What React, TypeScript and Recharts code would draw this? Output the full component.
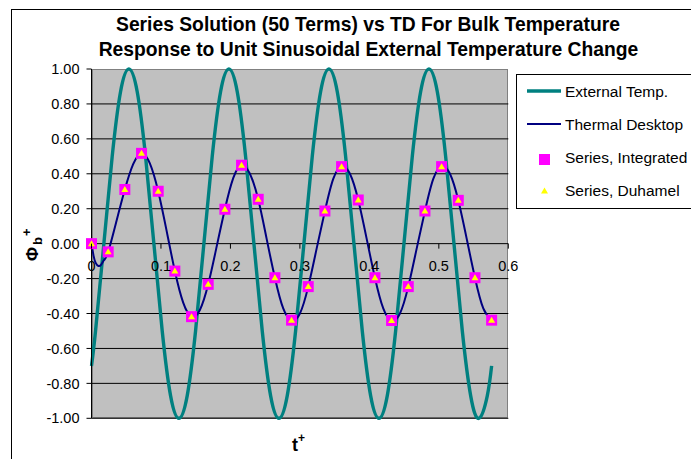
import { ComposedChart, Line, XAxis, YAxis, CartesianGrid } from "recharts";

// External temperature (unit sinusoid)
const extTime = [
  0, 0.0058, 0.0178, 0.0298, 0.0418, 0.0538, 0.0658, 0.0778, 0.0898, 0.1018, 0.1138, 0.1258,
  0.1378, 0.1498, 0.1618, 0.1738, 0.1858, 0.1978, 0.2098, 0.2218, 0.2338, 0.2458, 0.2578,
  0.2698, 0.2818, 0.2938, 0.3058, 0.3178, 0.3298, 0.3418, 0.3538, 0.3658, 0.3778, 0.3898,
  0.4018, 0.4138, 0.4258, 0.4378, 0.4498, 0.4618, 0.4738, 0.4858, 0.4978, 0.5098, 0.5218,
  0.5338, 0.5458, 0.5578, 0.5698, 0.576,
];
const extTemp = [
  -0.7, -0.5, 0, 0.5, 0.87, 1.0, 0.87, 0.5, 0, -0.5, -0.87, -1.0,
  -0.87, -0.5, 0, 0.5, 0.87, 1.0, 0.87, 0.5, 0, -0.5, -0.87,
  -1.0, -0.87, -0.5, 0, 0.5, 0.87, 1.0, 0.87, 0.5, 0, -0.5,
  -0.87, -1.0, -0.87, -0.5, 0, 0.5, 0.87, 1.0, 0.87, 0.5, 0,
  -0.5, -0.87, -1.0, -0.87, -0.7,
];

// Thermal Desktop bulk temperature
const tdTime = [
  0, 0.003, 0.006, 0.01, 0.014, 0.018, 0.024, 0.036, 0.048, 0.06, 0.072, 0.084, 0.096, 0.108,
  0.12, 0.132, 0.144, 0.156, 0.168, 0.18, 0.192, 0.204, 0.216, 0.228, 0.24, 0.252, 0.264,
  0.276, 0.288, 0.3, 0.312, 0.324, 0.336, 0.348, 0.36, 0.372, 0.384, 0.396, 0.408, 0.42,
  0.432, 0.444, 0.456, 0.468, 0.48, 0.492, 0.504, 0.516, 0.528, 0.54, 0.552, 0.564, 0.576,
];
const tdTemp = [
  0, -0.07, -0.11, -0.128, -0.12, -0.095, -0.047, 0.13, 0.31, 0.455, 0.515, 0.46, 0.3, 0.076,
  -0.157, -0.338, -0.418, -0.38, -0.233, -0.02, 0.197, 0.375, 0.449, 0.4, 0.254, 0.03, -0.195,
  -0.371, -0.438, -0.4, -0.246, -0.03, 0.187, 0.371, 0.441, 0.4, 0.25, 0.03, -0.195, -0.371,
  -0.44, -0.4, -0.246, -0.03, 0.187, 0.371, 0.441, 0.4, 0.248, 0.03, -0.195, -0.371, -0.438,
];

// Series solution, sampled every 0.024
const seriesTime = [
  0, 0.024, 0.048, 0.072, 0.096, 0.12, 0.144, 0.168, 0.192, 0.216, 0.24, 0.264, 0.288,
  0.312, 0.336, 0.36, 0.384, 0.408, 0.432, 0.456, 0.48, 0.504, 0.528, 0.552, 0.576,
];
const integrated = [
  0, -0.047, 0.31, 0.517, 0.3, -0.157, -0.418, -0.233, 0.197, 0.449, 0.254, -0.195, -0.438,
  -0.246, 0.187, 0.441, 0.25, -0.195, -0.44, -0.246, 0.187, 0.441, 0.248, -0.195, -0.438,
];
const duhamel = [
  0, -0.047, 0.31, 0.517, 0.3, -0.157, -0.418, -0.233, 0.197, 0.449, 0.254, -0.195, -0.438,
  -0.246, 0.187, 0.441, 0.25, -0.195, -0.44, -0.246, 0.187, 0.441, 0.248, -0.195, -0.438,
];

const yTicks = [-1, -0.8, -0.6, -0.4, -0.2, 0, 0.2, 0.4, 0.6, 0.8, 1];
const xTicks = [0, 0.1, 0.2, 0.3, 0.4, 0.5, 0.6];
const xTickLabels = ["0", "0.1", "0.2", "0.3", "0.4", "0.5", "0.6"];

const extData = extTime.map((t, i) => ({ t, v: extTemp[i] }));
const tdData = tdTime.map((t, i) => ({ t, v: tdTemp[i] }));
const intData = seriesTime.map((t, i) => ({ t, v: integrated[i] }));
const duhData = seriesTime.map((t, i) => ({ t, v: duhamel[i] }));

const FONT = "'Liberation Sans', Arial, sans-serif";
const TEAL = "#008080";
const NAVY = "#000080";
const MAGENTA = "#FF00FF";
const YELLOW = "#FFFF00";

const W = 691;
const H = 459;
const PLOT_L = 91.5;
const PLOT_R = 508.3;
const PLOT_T = 69;
const PLOT_B = 418.3;
const ZERO_Y = (PLOT_T + PLOT_B) / 2;
const X_AXIS_H = 30;

const SquareDot = (p: any) => {
  const { cx, cy, index } = p;
  if (cx == null || cy == null) return <g key={`sq-${index}`} />;
  return <rect key={`sq-${index}`} x={cx - 5.5} y={cy - 5.5} width={11} height={11} fill={MAGENTA} />;
};

const TriangleDot = (p: any) => {
  const { cx, cy, index } = p;
  if (cx == null || cy == null) return <g key={`tr-${index}`} />;
  return (
    <polygon
      key={`tr-${index}`}
      points={`${cx},${cy - 3.5} ${cx + 3.5},${cy + 2.5} ${cx - 3.5},${cy + 2.5}`}
      fill={YELLOW}
    />
  );
};

// x axis sits on the zero line, so its ticks are drawn there
const renderXTick = (p: any) => {
  const { x, payload, index } = p;
  return (
    <g key={`xt-${index}`}>
      <line x1={x} x2={x} y1={ZERO_Y} y2={ZERO_Y + 5} stroke="#000" />
      <text x={x} y={ZERO_Y + 27} textAnchor="middle" fontSize={14.5} fontFamily={FONT} fill="#000">
        {xTickLabels[index] ?? String(payload.value)}
      </text>
    </g>
  );
};

export default function App() {
  return (
    <div
      style={{
        position: "absolute",
        left: 0,
        top: 0,
        width: W,
        height: H,
        overflow: "hidden",
        background: "#fff",
        fontFamily: FONT,
      }}
    >
      {/* chart frame */}
      <div
        style={{
          position: "absolute",
          left: 10.5,
          top: 8.5,
          width: 720,
          height: 500,
          border: "1.5px solid #000",
        }}
      />
      {/* plot background */}
      <div
        style={{
          position: "absolute",
          left: PLOT_L,
          top: PLOT_T,
          width: PLOT_R - PLOT_L,
          height: PLOT_B - PLOT_T,
          background: "#C0C0C0",
          boxSizing: "border-box",
          border: "1px solid #808080",
        }}
      />
      <div style={{ position: "absolute", left: 0, top: 0 }}>
        <ComposedChart
          width={W}
          height={H}
          margin={{ top: PLOT_T, right: W - PLOT_R, bottom: H - PLOT_B - X_AXIS_H, left: 0 }}
        >
          <CartesianGrid
            vertical={false}
            stroke="#000"
            strokeWidth={1}
            horizontalValues={[-1, -0.8, -0.6, -0.4, -0.2, 0, 0.2, 0.4, 0.6, 0.8]}
          />
          <XAxis
            type="number"
            dataKey="t"
            domain={[0, 0.6]}
            ticks={xTicks}
            interval={0}
            height={X_AXIS_H}
            axisLine={false}
            tickLine={false}
            tick={renderXTick}
          />
          <YAxis
            type="number"
            dataKey="v"
            domain={[-1, 1]}
            ticks={yTicks}
            interval={0}
            width={PLOT_L}
            axisLine={{ stroke: "#000", strokeWidth: 1 }}
            tickLine={{ stroke: "#000" }}
            tickSize={5}
            tickMargin={7}
            tick={{ fill: "#000", fontSize: 14.5, fontFamily: FONT }}
            tickFormatter={(v: number) => v.toFixed(2)}
          />
          <Line
            data={extData}
            dataKey="v"
            type="natural"
            stroke={TEAL}
            strokeWidth={3.4}
            dot={false}
            isAnimationActive={false}
          />
          <Line
            data={tdData}
            dataKey="v"
            type="natural"
            stroke={NAVY}
            strokeWidth={2}
            dot={false}
            isAnimationActive={false}
          />
          <Line
            data={intData}
            dataKey="v"
            stroke="none"
            dot={SquareDot}
            activeDot={false}
            isAnimationActive={false}
          />
          <Line
            data={duhData}
            dataKey="v"
            stroke="none"
            dot={TriangleDot}
            activeDot={false}
            isAnimationActive={false}
          />
        </ComposedChart>
      </div>
      {/* titles, axis labels and legend */}
      <svg
        width={W}
        height={H}
        style={{ position: "absolute", left: 0, top: 0, pointerEvents: "none" }}
        fontFamily={FONT}
      >
        <text x={368} y={31} textAnchor="middle" fontSize={19.3} fontWeight="bold">
          Series Solution (50 Terms) vs TD For Bulk Temperature
        </text>
        <text x={368.5} y={56} textAnchor="middle" fontSize={19.3} fontWeight="bold">
          Response to Unit Sinusoidal External Temperature Change
        </text>
        <text transform="translate(38,261) rotate(-90)" fontSize={17} fontWeight="bold">
          Φ
          <tspan fontSize={13} dy={4} dx={2}>b</tspan>
          <tspan fontSize={13} dy={-11} dx={1}>+</tspan>
        </text>
        <text x={292} y={451} fontSize={18} fontWeight="bold">
          t<tspan fontSize={12} dy={-9}>+</tspan>
        </text>
        <g>
          <rect x={516.5} y={74.5} width={200} height={134} fill="#fff" stroke="#000" strokeWidth={1} />
          <line x1={527} x2={561} y1={91} y2={91} stroke={TEAL} strokeWidth={3.4} />
          <text x={565} y={96.5} fontSize={15.5}>External Temp.</text>
          <line x1={527} x2={561} y1={124} y2={124} stroke={NAVY} strokeWidth={2} />
          <text x={565} y={129.5} fontSize={15.5}>Thermal Desktop</text>
          <rect x={539} y={154} width={11} height={11} fill={MAGENTA} />
          <text x={565} y={162.5} fontSize={15.5}>Series, Integrated</text>
          <polygon points="544.5,187.5 548,193.5 541,193.5" fill={YELLOW} />
          <text x={565} y={195.5} fontSize={15.5}>Series, Duhamel</text>
        </g>
      </svg>
    </div>
  );
}
